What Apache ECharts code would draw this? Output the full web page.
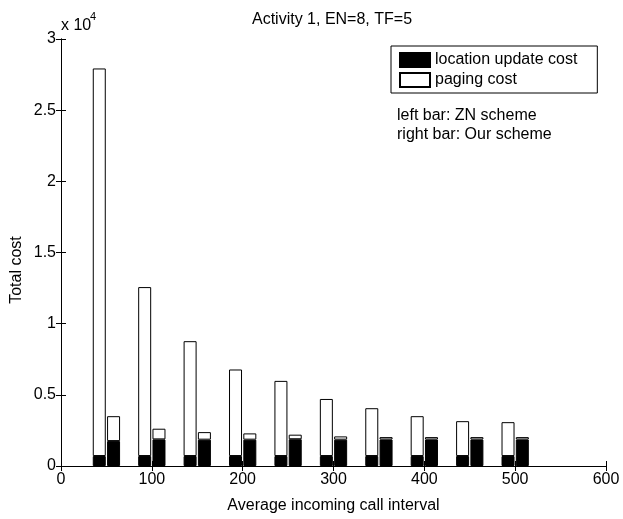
<!DOCTYPE html>
<html>
<head>
<meta charset="utf-8">
<script src="https://cdn.jsdelivr.net/npm/echarts@6/dist/echarts.min.js"></script>
<style>
html,body{margin:0;padding:0;background:#fff;}
#chart{width:623px;height:519px;}
</style>
</head>
<body>
<div id="chart"></div>
<script>
// Data
var xValues = [50, 100, 150, 200, 250, 300, 350, 400, 450, 500];
var znLocation = [700, 700, 700, 700, 700, 700, 700, 700, 700, 700];
var znPaging = [27230, 11870, 8070, 6080, 5280, 4010, 3360, 2800, 2450, 2380];
var ourLocation = [1750, 1870, 1850, 1850, 1880, 1850, 1860, 1860, 1860, 1860];
var ourPaging = [1750, 750, 530, 440, 320, 230, 170, 170, 170, 170];
var yTickValues = [0, 5000, 10000, 15000, 20000, 25000, 30000];
var legendNames = ['location update cost', 'paging cost'];

var FONT = '"Liberation Sans", Arial, Helvetica, sans-serif';

// value first, x second, so that stacking applies to the value dimension
function pairs(vals) {
  return xValues.map(function (x, i) { return [vals[i], x]; });
}

var chart = echarts.init(document.getElementById('chart'), null, {renderer: 'canvas'});

var axisLine = {show: true, lineStyle: {color: '#000', width: 1}};
var tick = {show: true, inside: true, length: 5, lineStyle: {color: '#000', width: 1}};

function bar(name, stack, vals, fill) {
  return {
    type: 'bar',
    name: name,
    stack: stack,
    barWidth: 13,
    barGap: '10%',
    animation: false,
    emphasis: {disabled: true},
    dimensions: ['cost', 'interval'],
    encode: {x: 'interval', y: 'cost'},
    data: pairs(vals),
    itemStyle: {color: fill, borderColor: '#000', borderWidth: 1}
  };
}

var option = {
  animation: false,
  backgroundColor: '#fff',
  title: {
    text: 'Activity 1, EN=8, TF=5',
    left: 332,
    textAlign: 'center',
    top: 12,
    padding: 0,
    textStyle: {fontFamily: FONT, fontSize: 16, fontWeight: 'normal', color: '#000'}
  },
  legend: {
    data: legendNames.map(function (n) { return {name: n, icon: 'rect'}; }),
    orient: 'vertical',
    left: 391,
    top: 46,
    itemWidth: 30,
    itemHeight: 14,
    itemGap: 4,
    itemTextGap: 10,
    padding: [6, 20, 5, 8],
    borderColor: '#000',
    borderWidth: 1,
    backgroundColor: '#fff',
    selectedMode: false,
    textStyle: {fontFamily: FONT, fontSize: 16, color: '#000'}
  },
  grid: {left: 61, right: 17, top: 39, bottom: 50, containLabel: false},
  xAxis: [{
    type: 'value',
    min: 0, max: 600, interval: 100,
    position: 'bottom',
    axisLine: axisLine,
    axisTick: tick,
    splitLine: {show: false},
    axisLabel: {fontFamily: FONT, fontSize: 16, color: '#000', margin: 6},
    name: 'Average incoming call interval',
    nameLocation: 'middle',
    nameGap: 32,
    nameTextStyle: {fontFamily: FONT, fontSize: 16, color: '#000'}
  }, {
    type: 'value',
    min: 0, max: 600, interval: 100,
    position: 'top',
    axisLine: axisLine,
    axisTick: tick,
    splitLine: {show: false},
    axisLabel: {show: false}
  }],
  yAxis: [{
    type: 'value',
    min: yTickValues[0], max: yTickValues[yTickValues.length - 1], interval: 5000,
    position: 'left',
    axisLine: axisLine,
    axisTick: tick,
    splitLine: {show: false},
    axisLabel: {
      fontFamily: FONT, fontSize: 16, color: '#000', margin: 5,
      formatter: function (v) { return String(v / 10000); }
    }
  }, {
    type: 'value',
    min: yTickValues[0], max: yTickValues[yTickValues.length - 1], interval: 5000,
    position: 'right',
    axisLine: axisLine,
    axisTick: tick,
    splitLine: {show: false},
    axisLabel: {show: false}
  }],
  graphic: [
    {type: 'text', left: 61, top: 18, style: {text: 'x 10', font: '16px ' + FONT, fill: '#000'}},
    {type: 'text', left: 90, top: 11, style: {text: '4', font: '11px ' + FONT, fill: '#000'}},
    {type: 'text', x: 17, y: 270, rotation: Math.PI / 2,
      style: {text: 'Total cost', font: '16px ' + FONT, fill: '#000', align: 'center', verticalAlign: 'middle'}},
    {type: 'text', x: 397, y: 116, z: 10,
      style: {text: 'left bar: ZN scheme', font: '16px ' + FONT, fill: '#000', verticalAlign: 'middle'}},
    {type: 'text', x: 397, y: 135, z: 10,
      style: {text: 'right bar: Our scheme', font: '16px ' + FONT, fill: '#000', verticalAlign: 'middle'}}
  ],
  series: [
    bar(legendNames[0], 'zn', znLocation, '#000'),
    bar(legendNames[1], 'zn', znPaging, '#fff'),
    bar(legendNames[0], 'our', ourLocation, '#000'),
    bar(legendNames[1], 'our', ourPaging, '#fff')
  ]
};

chart.setOption(option);
</script>
</body>
</html>
